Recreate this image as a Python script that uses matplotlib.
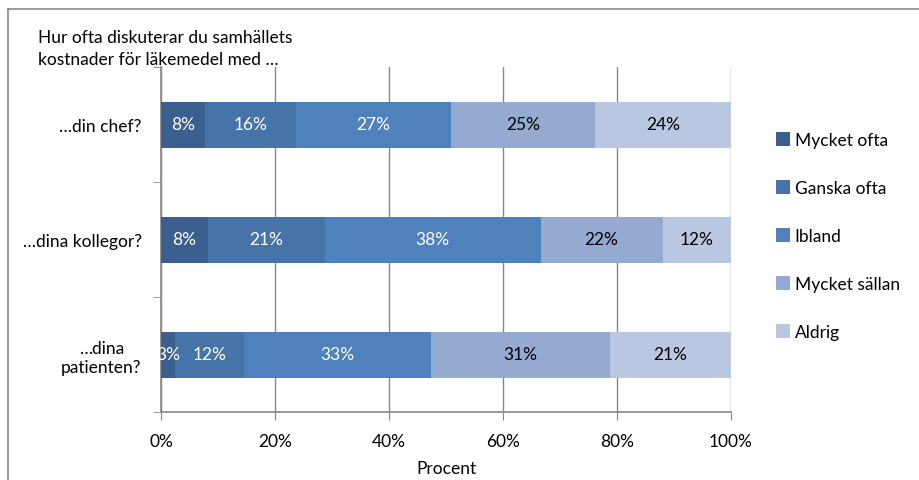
import matplotlib.pyplot as plt
import numpy as np

categories = ["…din chef?", "…dina kollegor?", "…dina\npatienten?"]
series = ["Mycket ofta", "Ganska ofta", "Ibland", "Mycket sällan", "Aldrig"]
mycket_ofta = [7.7, 8.2, 2.5]
ganska_ofta = [16.0, 20.5, 12.1]
ibland = [27.2, 37.9, 32.8]
mycket_sallan = [25.3, 21.4, 31.4]
aldrig = [23.8, 12.0, 21.2]
labels = [["8%", "8%", "3%"],
          ["16%", "21%", "12%"],
          ["27%", "38%", "33%"],
          ["25%", "22%", "31%"],
          ["24%", "12%", "21%"]]

colors = ["#3B5F8E", "#4673A8", "#4F81BD", "#95AAD1", "#BAC7E1"]
text_colors = ["white", "white", "white", "black", "black"]


def main():
    plt.rcParams["font.family"] = ["Lato", "DejaVu Sans"]
    fs = 12.5
    fig = plt.figure(figsize=(9.2, 4.81), dpi=100)
    ax = fig.add_axes([161 / 920, 1 - 413 / 481, 570 / 920, 345 / 481])

    values = [mycket_ofta, ganska_ofta, ibland, mycket_sallan, aldrig]
    y = np.arange(len(categories))
    left = np.zeros(len(categories))
    for i, vals in enumerate(values):
        vals = np.array(vals)
        ax.barh(y, vals, left=left, height=0.4, color=colors[i],
                label=series[i], zorder=3)
        for j in range(len(categories)):
            ax.text(left[j] + vals[j] / 2, y[j], labels[i][j],
                    ha="center", va="center", color=text_colors[i],
                    fontsize=fs, zorder=4)
        left += vals

    ax.set_xlim(0, 100)
    ax.set_ylim(2.5, -0.5)
    ax.set_xticks(np.arange(0, 101, 20))
    ax.set_xticklabels([f"{v}%" for v in range(0, 101, 20)], fontsize=fs)
    ax.set_yticks(y)
    ax.set_yticklabels(categories, fontsize=fs)
    for lbl in ax.get_yticklabels():
        lbl.set_multialignment("center")
    ax.set_yticks([-0.5, 0.5, 1.5, 2.5], minor=True)
    ax.tick_params(axis="y", which="major", length=0, pad=14)
    ax.tick_params(axis="y", which="minor", length=6, color="#868686")
    ax.tick_params(axis="x", length=6, color="#868686", pad=9)
    ax.grid(axis="x", color="#868686", linewidth=1, zorder=0)
    ax.set_xlabel("Procent", fontsize=fs, labelpad=8)

    for s in ["top", "right"]:
        ax.spines[s].set_visible(False)
    for s in ["left", "bottom"]:
        ax.spines[s].set_color("#868686")
        ax.spines[s].set_linewidth(1.2)

    handles, lbls = ax.get_legend_handles_labels()
    fig.legend(handles, lbls, loc="center left",
               bbox_to_anchor=(760 / 920, 1 - 237 / 481), frameon=False,
               fontsize=fs, handlelength=0.85, handleheight=0.85,
               handletextpad=0.25, labelspacing=1.84)

    fig.text(38 / 920, 1 - 49 / 481, "Hur ofta diskuterar du samhällets\nkostnader för läkemedel med …",
             fontsize=fs, ha="left", va="center", linespacing=1.45)

    # chart frame
    fig.add_artist(plt.Line2D([8 / 920, 8 / 920], [0, 1 - 10 / 481],
                              color="#868686", linewidth=1.2))
    fig.add_artist(plt.Line2D([8 / 920, 1], [1 - 10 / 481, 1 - 10 / 481],
                              color="#868686", linewidth=1.2))

    fig.savefig("out.png", dpi=100)


if __name__ == "__main__":
    main()
